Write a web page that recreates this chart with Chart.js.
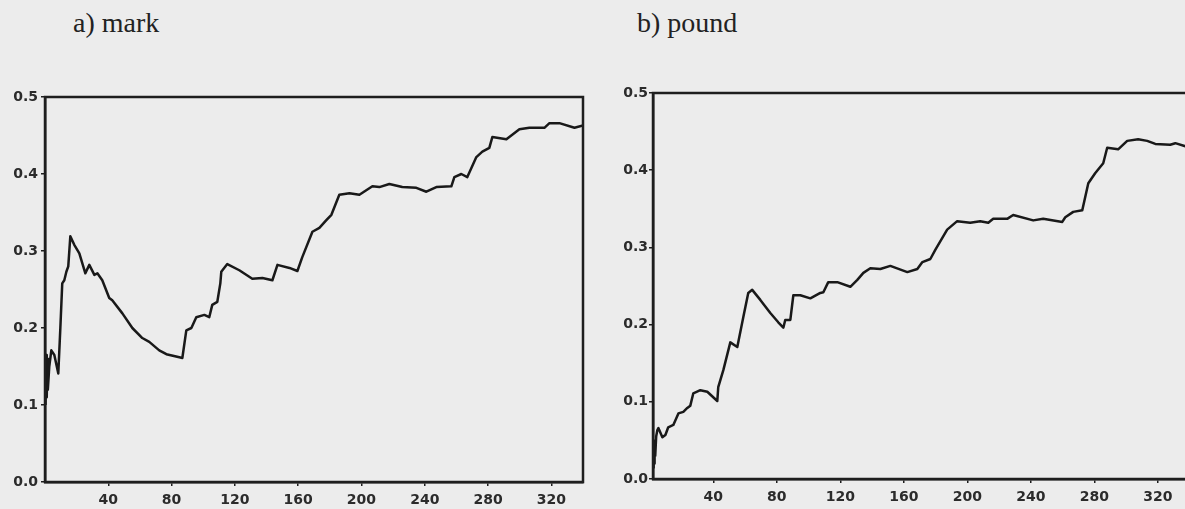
<!DOCTYPE html>
<html>
<head>
<meta charset="utf-8">
<script src="https://cdn.jsdelivr.net/npm/chart.js@4/dist/chart.umd.min.js"></script>
<style>
  html, body { margin: 0; padding: 0; width: 1185px; height: 509px; overflow: hidden; background: #ececec; }
  .panel { position: absolute; top: 60px; height: 449px; }
  .title { position: absolute; top: 9px; font-family: "Liberation Serif", serif; font-size: 28px; line-height: 28px; color: #222; }
</style>
</head>
<body>
<div class="title" style="left:73px">a) mark</div>
<div class="title" style="left:637px">b) pound</div>
<div class="panel" style="left:0; width:590px"><canvas id="markChart"></canvas></div>
<div class="panel" style="left:595px; width:600px"><canvas id="poundChart"></canvas></div>
<script>
// weeks on the x axis, shared tick marks
var xTickValues = [40, 80, 120, 160, 200, 240, 280, 320];
var yTickValues = [0, 0.1, 0.2, 0.3, 0.4, 0.5];

// a) mark
var markWeeks = [0.3, 0.8, 1.1, 1.5, 1.8, 2.7, 4, 5.9, 8.4, 9.7, 10.9, 12.2, 13.5, 14.7, 16, 18.5, 21.7,
  25.5, 28, 31.2, 33.1, 36.2, 40.6, 42.5, 48.9, 55.2, 61.5, 65.9, 72.2, 76.7, 84.9, 86.8, 89.3, 92.5,
  95.6, 100.7, 103.8, 105.7, 108.9, 110.8, 111.4, 115.2, 122.8, 131, 137.4, 143.7, 146.9, 154.5, 159.5,
  162.6, 169, 173.4, 177.8, 181, 186, 192.4, 198.7, 206.9, 211.3, 217.6, 225.8, 234.7, 241, 247.3,
  256.8, 258.7, 263.1, 266.9, 272.6, 276.4, 280.8, 282.7, 291.6, 299.8, 306.1, 315.6, 318.8, 325.1,
  334.6, 340];
var markValues = [0.10, 0.165, 0.11, 0.16, 0.12, 0.15, 0.171, 0.165, 0.141, 0.2, 0.258, 0.262, 0.273,
  0.28, 0.319, 0.308, 0.297, 0.271, 0.282, 0.269, 0.271, 0.262, 0.239, 0.236, 0.219, 0.2, 0.187, 0.182,
  0.171, 0.166, 0.162, 0.161, 0.197, 0.2, 0.214, 0.217, 0.214, 0.23, 0.234, 0.258, 0.273, 0.283, 0.275,
  0.264, 0.265, 0.262, 0.282, 0.278, 0.274, 0.292, 0.325, 0.33, 0.34, 0.347, 0.373, 0.375, 0.373, 0.384,
  0.383, 0.387, 0.383, 0.382, 0.377, 0.383, 0.384, 0.396, 0.4, 0.396, 0.422, 0.429, 0.434, 0.448, 0.445,
  0.458, 0.46, 0.46, 0.466, 0.466, 0.46, 0.463];

// b) pound
var poundWeeks = [2.2, 2.4, 2.7, 3.0, 3.4, 4.0, 4.7, 5.4, 7.9, 9.8, 11.6, 14.8, 18, 21.1, 23.6, 25.5, 27.4,
  31.8, 36.2, 42.5, 43.1, 46.3, 50.7, 55.1, 58.9, 62, 64.5, 69.6, 75.9, 80.9, 84.1, 85.3, 88.5, 90.4,
  94.8, 101.1, 107.4, 109.3, 112.4, 118.1, 126.3, 130.7, 134.5, 138.9, 145.2, 151.5, 162.2, 168.5, 171.7,
  176.7, 179.9, 187.3, 193.6, 201.8, 208.1, 213.2, 216.3, 225.1, 228.9, 241.5, 247.8, 259.8, 261.7,
  266.7, 272.4, 276.2, 280.5, 285.6, 288.1, 295, 300.7, 307.6, 313.3, 318.4, 327.8, 331, 337.3, 340];
var poundValues = [0.015, 0.05, 0.02, 0.045, 0.03, 0.055, 0.063, 0.066, 0.054, 0.057, 0.067, 0.07, 0.085,
  0.087, 0.092, 0.095, 0.111, 0.115, 0.113, 0.101, 0.119, 0.141, 0.177, 0.171, 0.21, 0.241, 0.245, 0.232,
  0.215, 0.203, 0.196, 0.206, 0.206, 0.238, 0.238, 0.234, 0.241, 0.242, 0.255, 0.255, 0.249, 0.258,
  0.267, 0.273, 0.272, 0.276, 0.268, 0.272, 0.281, 0.285, 0.297, 0.323, 0.334, 0.332, 0.334, 0.332,
  0.337, 0.337, 0.342, 0.335, 0.337, 0.333, 0.339, 0.346, 0.348, 0.383, 0.396, 0.409, 0.429, 0.427,
  0.438, 0.44, 0.438, 0.434, 0.433, 0.435, 0.431, 0.432];

var ink = '#1e1e1e';
var tickFont = { family: 'DejaVu Sans', size: 14, weight: 'bold' };

// closes the plot box (top and right edges)
var frame = {
  id: 'frame',
  afterDraw: function(chart) {
    var a = chart.chartArea, ctx = chart.ctx;
    ctx.save();
    ctx.strokeStyle = ink;
    ctx.lineWidth = 2.5;
    ctx.strokeRect(a.left, a.top, a.right - a.left, a.bottom - a.top);
    ctx.restore();
  }
};

function makeChart(id, weeks, values, opts) {
  var points = weeks.map(function(w, i) { return { x: w, y: values[i] }; });
  return new Chart(document.getElementById(id), {
    type: 'line',
    data: {
      datasets: [{
        data: points,
        borderColor: '#191919',
        borderWidth: 2.5,
        pointRadius: 0,
        tension: 0,
        borderJoinStyle: 'round',
        fill: false
      }]
    },
    options: {
      animation: false,
      responsive: true,
      maintainAspectRatio: false,
      layout: { padding: { top: opts.top, right: 7, left: 0, bottom: 0 } },
      plugins: { legend: { display: false }, tooltip: { enabled: false } },
      scales: {
        x: {
          type: 'linear',
          min: opts.xMin,
          max: opts.xMax,
          afterBuildTicks: function(scale) {
            scale.ticks = xTickValues.map(function(v) { return { value: v }; });
          },
          afterFit: function(scale) { scale.height = opts.xHeight; },
          border: { display: true, color: ink, width: 2.5 },
          grid: { drawOnChartArea: false, drawTicks: true, tickLength: 4, color: ink, lineWidth: 1.5 },
          ticks: { color: '#2b2b2b', font: tickFont, padding: 6, maxRotation: 0 }
        },
        y: {
          min: 0,
          max: 0.5,
          afterBuildTicks: function(scale) {
            scale.ticks = yTickValues.map(function(v) { return { value: v }; });
          },
          afterFit: function(scale) { scale.width = opts.yWidth; },
          border: { display: true, color: ink, width: 2.5 },
          grid: { drawOnChartArea: false, drawTicks: true, tickLength: 4, color: ink, lineWidth: 1.5 },
          ticks: {
            color: '#2b2b2b',
            font: tickFont,
            padding: opts.yPad,
            callback: function(v) { return Number(v).toFixed(1); }
          }
        }
      }
    },
    plugins: [frame]
  });
}

makeChart('markChart', markWeeks, markValues, { top: 37, xMin: 0, xMax: 340, xHeight: 27, yWidth: 45, yPad: 3 });
makeChart('poundChart', poundWeeks, poundValues, { top: 33, xMin: 2, xMax: 339, xHeight: 30, yWidth: 58, yPad: 1 });
</script>
</body>
</html>
